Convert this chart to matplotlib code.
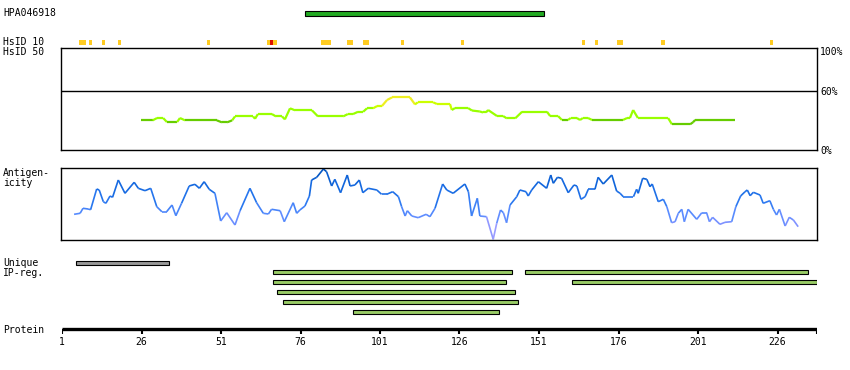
import numpy as np
import matplotlib
matplotlib.use('Agg')
import matplotlib.pyplot as plt
from matplotlib.collections import LineCollection
from matplotlib.colors import LinearSegmentedColormap

# protein / antibody info
protein_len = 238
antigen_name = 'HPA046918'
antigen_start, antigen_end = 78, 152

# HsID 10 hits (residue, level) level 1 = yellow, 2 = red
hsid_res = [7, 8, 10, 14, 19, 47, 66, 67, 68, 83, 84, 85, 91, 92, 96, 97, 108, 127, 165, 169, 176, 177, 190, 224]
hsid_lvl = [1, 1, 1, 1, 1, 1, 1, 2, 1, 1, 1, 1, 1, 1, 1, 1, 1, 1, 1, 1, 1, 1, 1, 1]

# HsID 50 identity (%)
id_res = [25.8, 29.5, 30.9, 32.8, 34.0, 37.2, 38.1, 39.7, 49.7, 51.3, 52.9, 54.5, 55.4, 61.1, 61.7,
          62.6, 67.0, 68.3, 70.2, 71.1, 72.7, 74.3, 79.6, 81.5, 89.4, 90.9, 92.5, 94.1, 95.7, 96.9,
          98.8, 100.1, 101.6, 103.2, 104.8, 110.4, 112.0, 112.9, 117.7, 118.9, 123.0, 123.6, 124.6, 128.7, 129.9,
          132.4, 133.4, 134.3, 135.0, 137.8, 139.7, 140.9, 143.5, 145.7, 153.5, 154.5, 157.0, 158.2, 160.1, 161.0,
          162.9, 163.9, 164.8, 166.4, 167.7, 177.4, 178.7, 179.6, 180.6, 182.1, 191.6, 192.8, 198.5, 199.4, 200.1,
          212.6]
id_pct = [30, 30, 32.4, 32.4, 28.3, 28.3, 32.4, 30, 30, 28, 28, 30, 34, 34, 31.6,
          36.4, 36.4, 34, 34, 31, 42.2, 40.2, 40.2, 34, 34, 36.4, 36.4, 38.7, 38.7, 42.2,
          42.2, 44.5, 44.5, 50.6, 53.3, 53.3, 46.2, 48.3, 48.3, 46.6, 46.6, 40.5, 42.5, 42.5, 40,
          39, 38, 38, 40.5, 34.4, 34.4, 32, 32, 38.8, 38.8, 34.4, 34.4, 30.4, 30.4, 32.4,
          32.4, 30.4, 32.4, 32.4, 30.4, 30.4, 32.4, 32.4, 40.5, 32.4, 32.4, 26, 26, 28, 30.4,
          30.4]

# antigenicity
ag_res = [4.8, 6.7, 7.6, 9.2, 10.0, 11.9, 12.7, 14.0, 14.8, 16.1, 16.9, 18.7, 20.8, 23.7, 25.0,
          27.1, 28.9, 30.8, 32.4, 33.9, 35.6, 36.8, 38.6, 41.0, 42.8, 44.2, 45.7, 47.3, 49.1, 50.9,
          52.8, 55.4, 57.0, 60.1, 62.2, 64.3, 65.9, 66.9, 69.6, 70.9, 73.7, 74.8, 75.8, 77.4, 78.8,
          79.5, 81.1, 83.2, 84.2, 85.8, 86.8, 88.6, 90.7, 91.6, 93.1, 94.5, 95.6, 97.3, 100.0, 101.5,
          103.1, 105.0, 106.8, 107.8, 108.9, 109.6, 111.0, 113.0, 115.5, 116.7, 118.3, 120.7, 122.0, 124.0, 127.7,
          128.8, 129.8, 131.6, 132.4, 134.5, 136.6, 137.7, 138.9, 139.8, 140.8, 141.9, 144.0, 145.0, 146.9, 147.6,
          148.7, 150.8, 153.4, 154.7, 155.5, 156.8, 158.1, 160.2, 162.0, 162.9, 164.2, 165.5, 166.5, 168.6, 169.6,
          171.2, 173.9, 175.4, 176.5, 177.5, 180.7, 181.7, 182.2, 183.6, 184.9, 185.9, 186.6, 188.5, 190.1, 191.2,
          192.7, 193.8, 194.8, 195.9, 196.7, 197.9, 200.6, 202.2, 203.7, 204.6, 205.6, 207.9, 209.5, 211.6, 212.9,
          214.4, 215.8, 216.5, 217.4, 218.4, 220.5, 221.5, 223.6, 224.7, 225.7, 226.6, 228.4, 229.7, 231.0, 232.5]
ag_val = [25.7, 26.7, 31.7, 31, 30.3, 51, 50, 38.3, 36.7, 44, 42.7, 60, 46.7, 57.7, 51.7,
          49.3, 51.7, 33.3, 28.3, 28.3, 35, 24.3, 36.7, 54, 55.7, 51.7, 58.3, 50.7, 46.7, 19,
          27.3, 15, 29.3, 51.7, 37.3, 26.7, 26, 30.7, 29.3, 18.3, 37.3, 26.7, 30, 34, 44,
          60, 62.7, 71, 68.3, 54, 60.7, 47.3, 65, 54, 55, 60, 47.3, 51.7, 50, 45.7,
          45.7, 48.3, 43.3, 33.3, 24, 29.3, 24, 22.3, 25.7, 23.3, 31.7, 56, 50, 46.7, 56,
          48.3, 24, 41.7, 24, 23.3, 0.7, 16.7, 30, 27.3, 17.3, 35, 43.3, 50, 48.3, 44,
          50, 58.3, 51.7, 65, 56.7, 62.7, 61.7, 47.3, 55, 54, 40.7, 43.3, 50.7, 50.7, 62.7,
          56, 65, 49, 46.7, 43.3, 43.3, 50.7, 46.7, 61.7, 60.7, 53.3, 56, 38.3, 40.7, 33.3,
          17.3, 18.3, 26.7, 30.7, 18.3, 30.7, 20.7, 27.3, 27.3, 18.3, 22.7, 15.7, 17.7, 18.3, 33.3,
          44, 48.3, 50, 44.3, 47.7, 45, 36.7, 39.3, 30.7, 25, 30.7, 14, 22.7, 20, 13.3]

# unique region and IP regions (start, end)
uniq_regs = [(6, 34)]
ip_rows = [[(68, 142), (147, 235)],
           [(68, 140), (162, 238)],
           [(69, 143)],
           [(71, 144)],
           [(93, 138)]]

tick_res = [1, 26, 51, 76, 101, 126, 151, 176, 201, 226]

W, H = 850, 370
PX0, PXR = 62.0, 3.18   # pixel of residue 1, pixels per residue
FONT = dict(family='DejaVu Sans Mono', fontsize=7)

fig = plt.figure(figsize=(W / 100, H / 100), dpi=100)


def res_of(px):
    return (px - PX0) / PXR + 1


def px_axes(x0, y0, x1, y1):
    a = fig.add_axes([x0 / W, 1 - y1 / H, (x1 - x0) / W, (y1 - y0) / H])
    a.set_xlim(res_of(x0), res_of(x1))
    return a


x_end = protein_len + 0.5

# overlay axes in pixel-y coordinates
ax = px_axes(PX0, 0, PX0 + (x_end - 1) * PXR, H)
ax.set_ylim(H, 0)
ax.axis('off')

ax.barh(13.6, antigen_end - antigen_start + 1, left=antigen_start - 0.5, height=4.5,
        color='#22aa22', edgecolor='black', linewidth=0.8)

for r, lv in zip(hsid_res, hsid_lvl):
    ax.barh(42.5, 1, left=r - 0.5, height=5, color='#dd1100' if lv == 2 else '#ffcc22', linewidth=0)

for s, e in uniq_regs:
    ax.barh(262.7, e - s + 1, left=s - 0.5, height=4, color='#999999', edgecolor='black', linewidth=0.8)
for i, row in enumerate(ip_rows):
    for s, e in row:
        ax.barh(272.3 + 10 * i, e - s + 1, left=s - 0.5, height=4, color='#99cc66',
                edgecolor='black', linewidth=0.8)

ax.plot([1, x_end], [329.3, 329.3], color='black', lw=2.4, solid_capstyle='butt')
for t in tick_res + [x_end]:
    ax.plot([t, t], [329, 333.5], color='black', lw=1.5, solid_capstyle='butt')
for t in tick_res:
    ax.text(t, 342, str(t), ha='center', va='center', **FONT)

# identity panel
ax_id = px_axes(61.3, 48.3, 817.3, 150)
ax_id.set_ylim(0, 103)
ax_id.axhline(60, color='black', lw=1)
pts = np.column_stack([id_res, id_pct])
segs = np.stack([pts[:-1], pts[1:]], axis=1)
cols = []
for a, b in zip(id_pct[:-1], id_pct[1:]):
    m = max(a, b)
    if m < 31:
        cols.append('#66cc00')
    elif m < 44:
        cols.append('#99ff00')
    elif m < 50:
        cols.append('#ccff00')
    else:
        cols.append('#eeee22')
ax_id.add_collection(LineCollection(segs, colors=cols, linewidths=1.6, capstyle='butt'))
ax_id.set_xticks([])
ax_id.yaxis.tick_right()
ax_id.set_yticks([0, 60, 100])
ax_id.set_yticklabels(['0%', '60%', '100%'], **FONT)
ax_id.tick_params(axis='y', length=0, pad=2)
for s in ax_id.spines.values():
    s.set_linewidth(1)

# antigenicity panel
ax_ag = px_axes(61.3, 168.3, 817.3, 240)
ax_ag.set_ylim(0, 71.7)
cmap = LinearSegmentedColormap.from_list('ag', [(0, '#b0a8ff'), (0.2, '#8a94ff'), (0.35, '#5a8cff'),
                                                (0.55, '#2a78f0'), (0.78, '#1166dd'), (1.0, '#0050b8')])
pts = np.column_stack([ag_res, ag_val])
segs = np.stack([pts[:-1], pts[1:]], axis=1)
mid = (np.array(ag_val[:-1]) + np.array(ag_val[1:])) / 2
ax_ag.add_collection(LineCollection(segs, colors=cmap(mid / 72), linewidths=1.2))
ax_ag.set_xticks([])
ax_ag.set_yticks([])
for s in ax_ag.spines.values():
    s.set_linewidth(1)

# left labels
for txt, y in [(antigen_name, 13), ('HsID 10', 42), ('HsID 50', 52), ('Antigen-', 173),
               ('icity', 183.5), ('Unique', 263), ('IP-reg.', 273), ('Protein', 330)]:
    fig.text(3 / W, 1 - y / H, txt, ha='left', va='center', **FONT)

fig.savefig('out.png', dpi=100)
